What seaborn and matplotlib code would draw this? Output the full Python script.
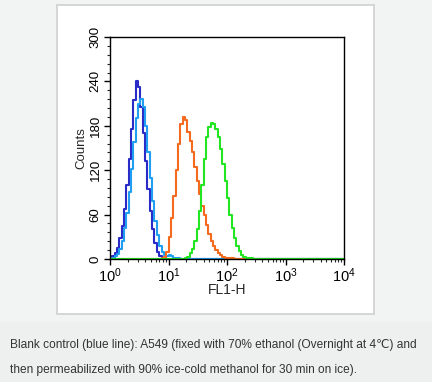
#!/usr/bin/env python
# coding: utf-8

"""
Histogramme de cytométrie en flux (FL1-H) pour A549, témoin blanc en bleu
"""

import numpy as np
import pandas as pd
import seaborn as sns
import matplotlib.pyplot as plt
from matplotlib.patches import Rectangle
from matplotlib.ticker import LogLocator, MultipleLocator, NullFormatter

# canaux : bins de 0.04 décade sur 4 décades (log10 de FL1-H)
BIN_STEP = 0.04
N_BINS = 100

# chaque série : (bin de départ, comptes)
navy_start = 0
navy_counts = [2, 4, 8, 15, 28, 45, 68, 100, 135, 175, 215, 240, 232, 205, 170,
               132, 95, 65, 40, 22, 10, 4, 2, 1, 0]

lightblue_start = 0
lightblue_counts = [1, 2, 4, 7, 14, 25, 42, 62, 90, 122, 158, 190, 210, 216, 205,
                    180, 145, 110, 78, 52, 32, 18, 9, 5, 4, 5, 4, 2, 1, 1, 0]

orange_start = 22
orange_counts = [1, 3, 10, 30, 55, 85, 120, 155, 182, 192, 188, 172, 160, 145, 125,
                 105, 88, 72, 60, 46, 34, 25, 18, 12, 8, 5, 3, 2, 1, 1, 1, 0]

green_start = 31
green_counts = [0, 1, 3, 8, 14, 24, 40, 65, 100, 135, 165, 178, 184, 182, 175, 165,
                148, 128, 105, 82, 60, 42, 28, 18, 11, 6, 3, 2, 1, 1, 0]

series_names = ["blank_dark", "blank", "orange", "green"]
series_colors = ["#2a2ac8", "#1f9ef2", "#f56a1e", "#22e622"]

caption_lines = ["Blank control (blue line): A549 (fixed with 70% ethanol (Overnight at 4\u2103) and",
                 "then permeabilized with 90% ice-cold methanol for 30 min on ice)."]

# construit la table longue
log_centers = np.arange(N_BINS) * BIN_STEP + BIN_STEP / 2
rows = []
for name, start, counts in zip(series_names,
                               [navy_start, lightblue_start, orange_start, green_start],
                               [navy_counts, lightblue_counts, orange_counts, green_counts]):
    full = np.zeros(N_BINS)
    full[start:start + len(counts)] = counts
    for lc, c in zip(log_centers, full):
        rows.append({"sample": name, "fl1": 10 ** lc, "count": c})
df = pd.DataFrame(rows)

sns.set_style("white")
plt.rcParams["font.family"] = ["Liberation Sans", "DejaVu Sans"]
plt.rcParams["mathtext.fontset"] = "custom"
plt.rcParams["mathtext.rm"] = "Liberation Sans"
plt.rcParams["mathtext.it"] = "Liberation Sans"

fig = plt.figure(figsize=(4.32, 3.82), dpi=100, facecolor="#f2f3f3")

# panneau blanc et zone de légende
fig.patches.append(Rectangle((57 / 432, 1 - 314 / 382), 317 / 432, 309 / 382,
                             transform=fig.transFigure, facecolor="white",
                             edgecolor="#cfcfcf", lw=1.2, zorder=-2))
fig.patches.append(Rectangle((0, 0), 1, 1 - 322 / 382, transform=fig.transFigure,
                             facecolor="#eef0ef", edgecolor="none", zorder=-2))

ax = fig.add_axes([110 / 432, 1 - 259 / 382, 234 / 432, 222 / 382])
ax.set_zorder(3)
ax.set_facecolor("white")

sns.lineplot(data=df, x="fl1", y="count", hue="sample", hue_order=series_names,
             palette=series_colors, drawstyle="steps-mid", lw=1.5,
             estimator=None, legend=False, ax=ax)

ax.set_xscale("log")
ax.set_xlim(1, 1e4)
ax.set_ylim(0, 300)

ax.xaxis.set_major_locator(LogLocator(base=10, numticks=10))
ax.xaxis.set_minor_locator(LogLocator(base=10, subs=np.arange(2, 10), numticks=10))
ax.xaxis.set_minor_formatter(NullFormatter())
ax.yaxis.set_major_locator(MultipleLocator(60))
ax.yaxis.set_minor_locator(MultipleLocator(12))

ax.tick_params(which="major", direction="out", length=4, width=1, labelsize=9.5,
               colors="black", pad=2, bottom=True, left=True)
ax.tick_params(axis="x", which="major", labelsize=10.5, pad=1)
ax.tick_params(which="minor", direction="out", length=2.5, width=0.8,
               bottom=True, left=True)
for lab in ax.get_yticklabels():
    lab.set_rotation(90)
    lab.set_va("center")

for sp in ax.spines.values():
    sp.set_visible(True)
    sp.set_color("black")
    sp.set_linewidth(1.0)

ax.set_xlabel("FL1-H", fontsize=10, labelpad=-1)
ax.set_ylabel("Counts", fontsize=9.5, labelpad=2)

for i, line in enumerate(caption_lines):
    fig.text(10 / 432, 1 - (345 + 25 * i) / 382, line, fontsize=8.6, color="#333333",
             va="center", ha="left")

fig.savefig("out.png", dpi=100, facecolor=fig.get_facecolor())
